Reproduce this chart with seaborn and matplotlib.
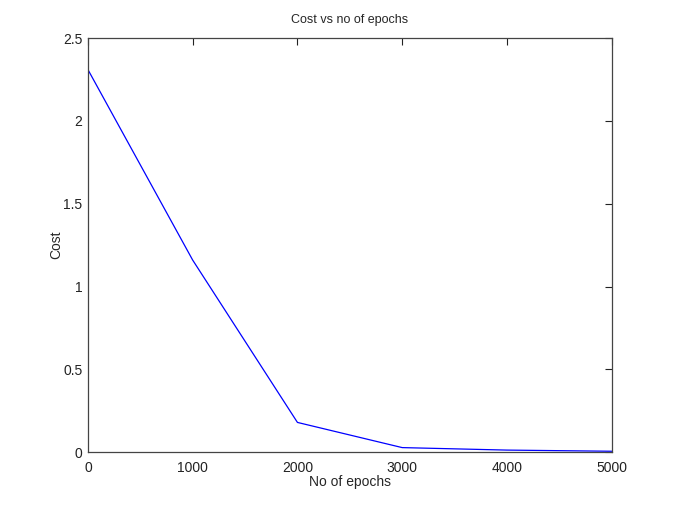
import pandas as pd
import matplotlib
matplotlib.use("Agg")
import matplotlib.pyplot as plt
import seaborn as sns

# values
epochs = [0, 1000, 2000, 3000, 4000, 5000]
cost = [2.31, 1.16, 0.18, 0.028, 0.013, 0.006]

df = pd.DataFrame({"epochs": epochs, "cost": cost})

sns.set_style("white")
plt.rcParams["font.family"] = ["Liberation Sans", "DejaVu Sans"]

fig = plt.figure(figsize=(6.76, 5.07), dpi=100)
ax = fig.add_axes([0.130, 0.108, 0.775, 0.817])

sns.lineplot(data=df, x="epochs", y="cost", color="blue", linewidth=0.9, ax=ax)

ax.set_xlim(0, 5000)
ax.set_ylim(0, 2.5)
ax.set_xticks([0, 1000, 2000, 3000, 4000, 5000])
ax.set_yticks([0, 0.5, 1, 1.5, 2, 2.5])
ax.set_yticklabels(["0", "0.5", "1", "1.5", "2", "2.5"])
ax.tick_params(direction="in", top=True, right=True, length=5, width=0.8,
               labelsize=10, colors="#222222")
ax.tick_params(axis="x", pad=6)
ax.tick_params(axis="y", pad=4)
for s in ax.spines.values():
    s.set_color("#444444")
    s.set_linewidth(0.9)

ax.set_title("Cost vs no of epochs", fontsize=9, pad=11)
ax.set_xlabel("No of epochs", fontsize=10, labelpad=0)
ax.set_ylabel("Cost", fontsize=10, labelpad=0)

fig.savefig("out.png", dpi=100)
